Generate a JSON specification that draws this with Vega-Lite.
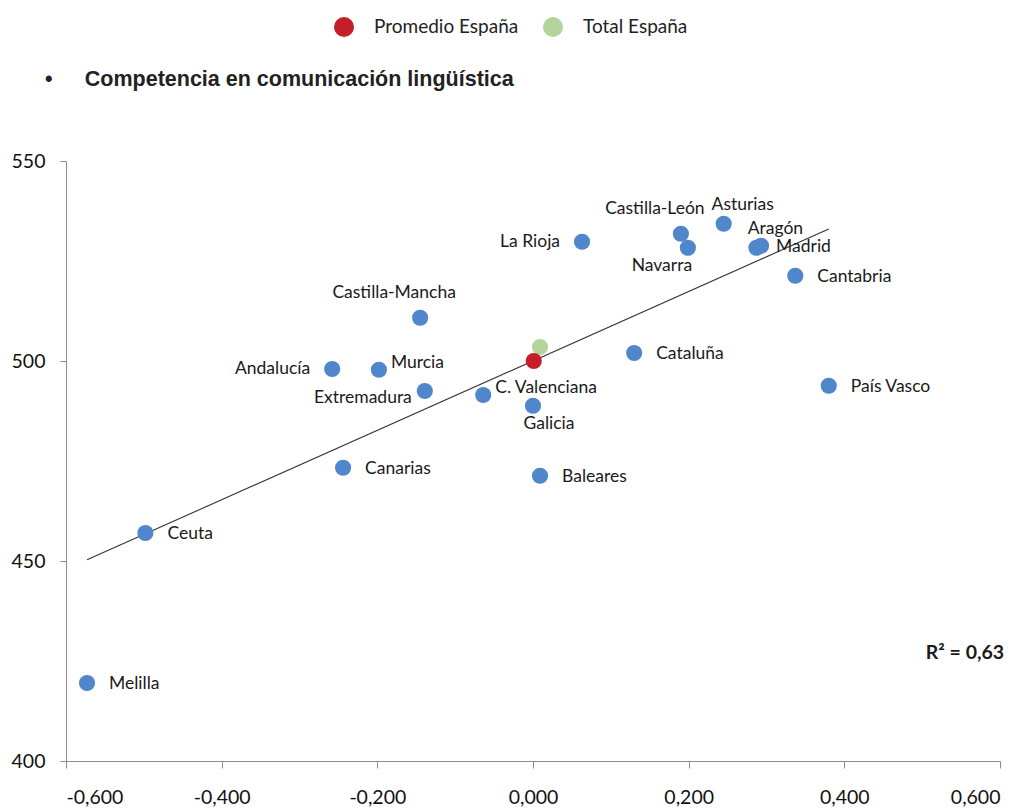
{
  "$schema": "https://vega.github.io/schema/vega-lite/v6.json",
  "width": 934,
  "height": 600,
  "autosize": {"type": "none"},
  "padding": {"left": 66, "top": 161, "right": 28, "bottom": 48},
  "background": "white",
  "config": {
    "locale": {"number": {"decimal": ",", "thousands": ".", "grouping": [3], "currency": ["", " €"], "minus": "-"}},
    "view": {"stroke": null},
    "text": {"font": "Lato", "fontSize": 17.5, "color": "#1a1a1a"}
  },
  "title": {
    "text": "•\u2003\u2002Competencia en comunicación lingüística",
    "frame": "group",
    "anchor": "start",
    "dx": -21,
    "offset": -73,
    "font": "Liberation Sans",
    "fontSize": 21.5,
    "fontWeight": "bold",
    "color": "#222222"
  },
  "datasets": {
    "pts": [
      {"name": "Melilla", "x": -0.573, "y": 419.5, "tipo": "Comunidad"},
      {"name": "Ceuta", "x": -0.498, "y": 457.0, "tipo": "Comunidad"},
      {"name": "Canarias", "x": -0.244, "y": 473.3, "tipo": "Comunidad"},
      {"name": "Andalucía", "x": -0.258, "y": 498.0, "tipo": "Comunidad"},
      {"name": "Murcia", "x": -0.198, "y": 497.8, "tipo": "Comunidad"},
      {"name": "Extremadura", "x": -0.139, "y": 492.5, "tipo": "Comunidad"},
      {"name": "Castilla-Mancha", "x": -0.145, "y": 510.8, "tipo": "Comunidad"},
      {"name": "C. Valenciana", "x": -0.064, "y": 491.5, "tipo": "Comunidad"},
      {"name": "Galicia", "x": 0.0, "y": 488.8, "tipo": "Comunidad"},
      {"name": "Baleares", "x": 0.009, "y": 471.3, "tipo": "Comunidad"},
      {"name": "La Rioja", "x": 0.063, "y": 529.8, "tipo": "Comunidad"},
      {"name": "Cataluña", "x": 0.130, "y": 502.0, "tipo": "Comunidad"},
      {"name": "Castilla-León", "x": 0.190, "y": 531.8, "tipo": "Comunidad"},
      {"name": "Navarra", "x": 0.199, "y": 528.3, "tipo": "Comunidad"},
      {"name": "Asturias", "x": 0.245, "y": 534.3, "tipo": "Comunidad"},
      {"name": "Aragón", "x": 0.287, "y": 528.3, "tipo": "Comunidad"},
      {"name": "Madrid", "x": 0.293, "y": 528.8, "tipo": "Comunidad"},
      {"name": "Cantabria", "x": 0.337, "y": 521.3, "tipo": "Comunidad"},
      {"name": "País Vasco", "x": 0.380, "y": 493.8, "tipo": "Comunidad"},
      {"name": "Total España", "x": 0.009, "y": 503.5, "tipo": "Total España"},
      {"name": "Promedio España", "x": 0.001, "y": 500.0, "tipo": "Promedio España"}
    ],
    "trend": [
      {"x": -0.573, "y": 450.3},
      {"x": 0.380, "y": 533.0}
    ],
    "r2": [
      {"x": 0.555, "y": 427.0, "label": "R² = 0,63"}
    ]
  },
  "encoding": {
    "x": {
      "field": "x", "type": "quantitative",
      "scale": {"domain": [-0.6, 0.6], "nice": false, "zero": false},
      "axis": {
        "title": null, "format": ".3f", "values": [-0.6, -0.4, -0.2, 0, 0.2, 0.4, 0.6],
        "grid": false, "domainColor": "#8c8c8c", "tickColor": "#8c8c8c", "tickSize": 7,
        "labelPadding": 20, "labelFont": "Lato", "labelFontSize": 19.5, "labelColor": "#111111"
      }
    },
    "y": {
      "field": "y", "type": "quantitative",
      "scale": {"domain": [400, 550], "nice": false, "zero": false},
      "axis": {
        "title": null, "values": [400, 450, 500, 550],
        "grid": false, "domainColor": "#8c8c8c", "tickColor": "#8c8c8c", "tickSize": 6,
        "labelPadding": 15, "labelFont": "Lato", "labelFontSize": 19.5, "labelColor": "#111111"
      }
    }
  },
  "layer": [
    {
      "data": {"name": "trend"},
      "mark": {"type": "line", "color": "#333333", "strokeWidth": 1.1},
      "encoding": {}
    },
    {
      "data": {"name": "pts"},
      "transform": [{"filter": "datum.tipo === 'Comunidad'"}],
      "mark": {"type": "circle", "size": 260, "opacity": 1, "color": "#4F86CC"}
    },
    {
      "data": {"name": "pts"},
      "transform": [{"filter": "datum.tipo !== 'Comunidad'"}],
      "mark": {"type": "circle", "size": 260, "opacity": 1},
      "encoding": {
        "color": {
          "field": "tipo", "type": "nominal",
          "scale": {"domain": ["Promedio España", "Total España"], "range": ["#C41E2A", "#B4D49B"]},
          "legend": {
            "title": null, "orient": "none", "direction": "horizontal",
            "legendX": 268, "legendY": -144,
            "symbolType": "circle", "symbolSize": 400, "symbolStrokeWidth": 0,
            "labelFont": "Lato", "labelFontSize": 19, "labelColor": "#222222",
            "labelOffset": 20, "columnPadding": 24
          }
        }
      }
    },
    {
      "data": {"name": "pts"},
      "transform": [{"filter": {"field": "name", "oneOf": ["Melilla", "Ceuta", "Canarias", "Cataluña", "Cantabria", "País Vasco", "Baleares"]}}],
      "mark": {"type": "text", "align": "left", "baseline": "middle", "dx": 22, "dy": 1},
      "encoding": {"text": {"field": "name"}}
    },
    {
      "data": {"name": "pts"},
      "transform": [{"filter": {"field": "name", "oneOf": ["Andalucía", "La Rioja"]}}],
      "mark": {"type": "text", "align": "right", "baseline": "middle", "dx": -22, "dy": 0},
      "encoding": {"text": {"field": "name"}}
    },
    {
      "data": {"name": "pts"},
      "transform": [{"filter": {"field": "name", "oneOf": ["Murcia", "C. Valenciana"]}}],
      "mark": {"type": "text", "align": "left", "baseline": "middle", "dx": 12, "dy": -7},
      "encoding": {"text": {"field": "name"}}
    },
    {
      "data": {"name": "pts"},
      "transform": [{"filter": {"field": "name", "oneOf": ["Madrid"]}}],
      "mark": {"type": "text", "align": "left", "baseline": "middle", "dx": 15, "dy": 1},
      "encoding": {"text": {"field": "name"}}
    },
    {
      "data": {"name": "pts"},
      "transform": [{"filter": {"field": "name", "oneOf": ["Extremadura"]}}],
      "mark": {"type": "text", "align": "right", "baseline": "middle", "dx": -13, "dy": 7},
      "encoding": {"text": {"field": "name"}}
    },
    {
      "data": {"name": "pts"},
      "transform": [{"filter": {"field": "name", "oneOf": ["Castilla-Mancha", "Castilla-León"]}}],
      "mark": {"type": "text", "align": "center", "baseline": "middle", "dx": -26, "dy": -25},
      "encoding": {"text": {"field": "name"}}
    },
    {
      "data": {"name": "pts"},
      "transform": [{"filter": {"field": "name", "oneOf": ["Asturias", "Aragón"]}}],
      "mark": {"type": "text", "align": "center", "baseline": "middle", "dx": 19, "dy": -19},
      "encoding": {"text": {"field": "name"}}
    },
    {
      "data": {"name": "pts"},
      "transform": [{"filter": {"field": "name", "oneOf": ["Galicia"]}}],
      "mark": {"type": "text", "align": "center", "baseline": "middle", "dx": 16, "dy": 18},
      "encoding": {"text": {"field": "name"}}
    },
    {
      "data": {"name": "pts"},
      "transform": [{"filter": {"field": "name", "oneOf": ["Navarra"]}}],
      "mark": {"type": "text", "align": "center", "baseline": "middle", "dx": -26, "dy": 18},
      "encoding": {"text": {"field": "name"}}
    },
    {
      "data": {"name": "r2"},
      "mark": {"type": "text", "align": "center", "baseline": "middle", "fontWeight": "bold", "fontSize": 19.5},
      "encoding": {"text": {"field": "label"}}
    }
  ]
}
